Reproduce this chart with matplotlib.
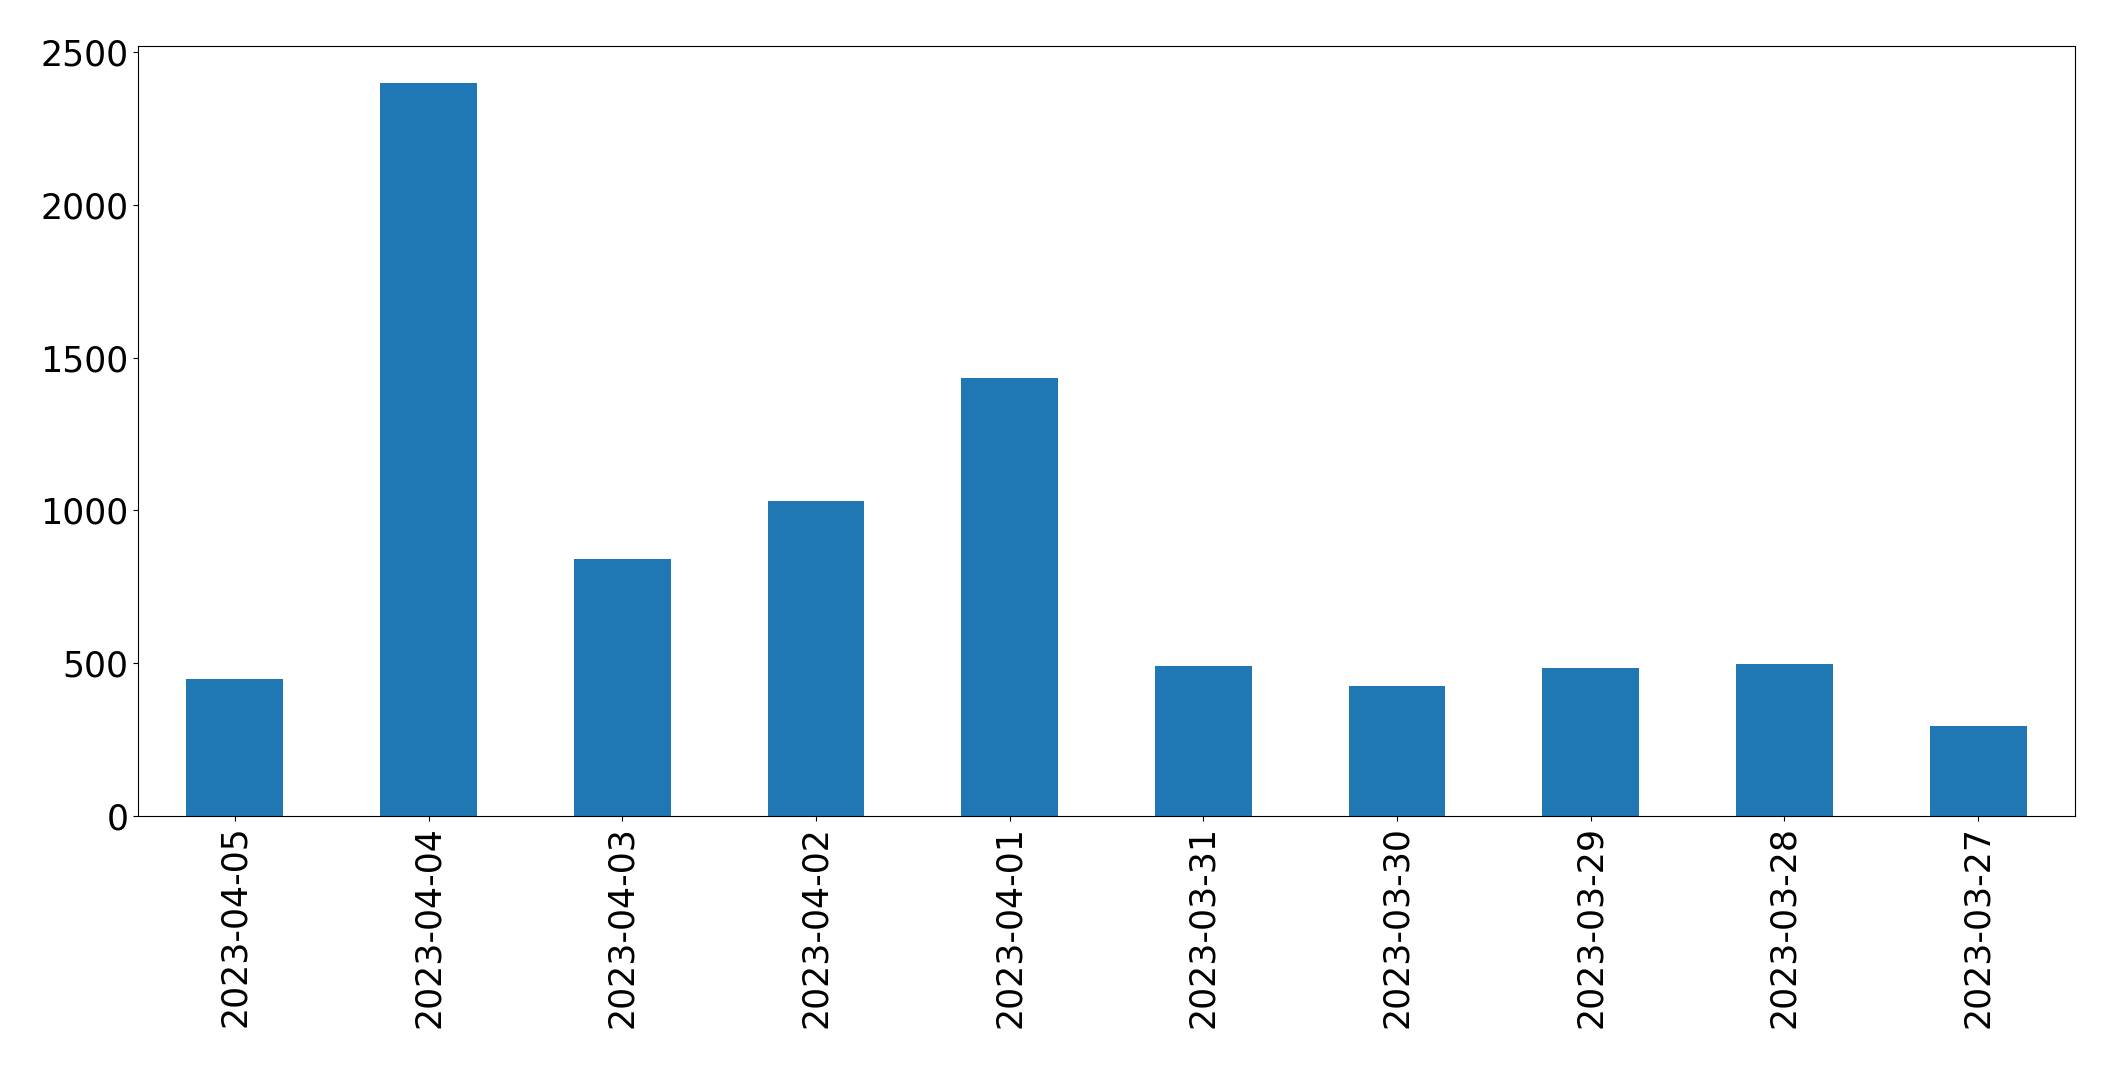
import matplotlib
matplotlib.use("Agg")
import matplotlib.pyplot as plt
import numpy as np

dates = ["2023-04-05", "2023-04-04", "2023-04-03", "2023-04-02", "2023-04-01",
         "2023-03-31", "2023-03-30", "2023-03-29", "2023-03-28", "2023-03-27"]
counts = [447, 2400, 840, 1030, 1433, 491, 425, 486, 496, 293]

fig = plt.figure(figsize=(21.15, 10.68), dpi=100)
ax = fig.add_axes([138/2115, 1-816/1068, (2075-138)/2115, (816-46)/1068])
x = np.arange(len(dates))
ax.bar(x, counts, width=0.5, color="#1f77b4")
ax.set_xlim(-0.5, len(dates) - 0.5)
ax.set_xticks(x)
ax.set_xticklabels(dates, rotation=90)
ax.tick_params(labelsize=25)
fig.savefig("out.png", dpi=100)
